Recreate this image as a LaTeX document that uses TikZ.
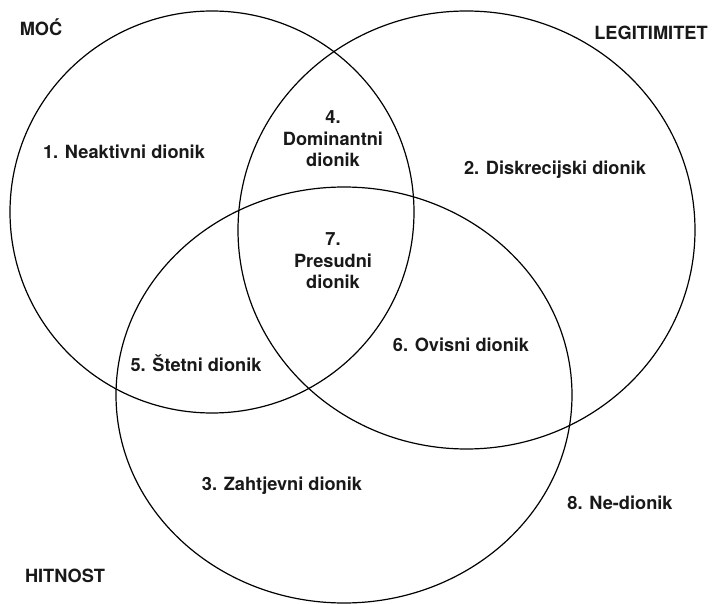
\documentclass[tikz,border=0pt]{standalone}
\usepackage{fontspec}
\setmainfont{TeX Gyre Heros}
\begin{document}
\begin{tikzpicture}[x=1pt,y=-1pt,
  ring/.style={draw=black,line width=1.2pt},
  lbl/.style={font=\bfseries\fontsize{18.2}{21.5}\selectfont,align=center,inner sep=0pt,text=black!90}]
\useasboundingbox[fill=white] (0,0) rectangle (713,604);
% circles
\draw[ring] (212,212) ellipse [x radius=202pt, y radius=201pt];
\draw[ring] (466.5,230) ellipse [x radius=228.5pt, y radius=219pt];
\draw[ring] (344,395) ellipse [x radius=228pt, y radius=208pt];
% set labels
\node[lbl] (moc) at (41,27) {MOĆ};
\node[lbl] (leg) at (651,33) {LEGITIMITET};
\node[lbl] (hit) at (65,576) {HITNOST};
% region labels
\node[lbl] (n1) at (124,152) {1. Neaktivni dionik};
\node[lbl] (n2) at (555,170) {2. Diskrecijski dionik};
\node[lbl] (n3) at (282,486) {3. Zahtjevni dionik};
\node[lbl] (n4) at (333,139) {4.\\Dominantni\\dionik};
\node[lbl] (n5) at (196,363) {5. Štetni dionik};
\node[lbl] (n6) at (461,345) {6. Ovisni dionik};
\node[lbl] (n7) at (333,261) {7.\\Presudni\\dionik};
\node[lbl] (n8) at (620,503) {8. Ne-dionik};
\end{tikzpicture}
\end{document}
